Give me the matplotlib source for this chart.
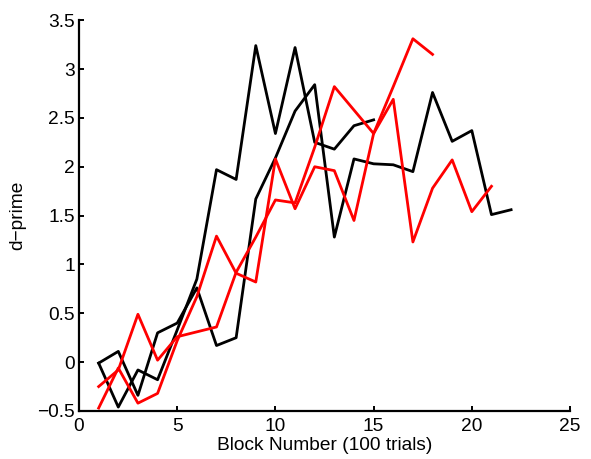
import matplotlib
matplotlib.use("Agg")
import matplotlib.pyplot as plt
from matplotlib.ticker import FuncFormatter

# d-prime per block, two black and two red learning curves
black_a_blocks = [1, 2, 3, 4, 5, 6, 7, 8, 9, 10, 11, 12, 13, 14, 15]
black_a = [-0.01, -0.46, -0.08, -0.18, 0.33, 0.85, 1.97, 1.87, 3.24, 2.34,
           3.22, 2.25, 2.18, 2.42, 2.48]

black_b_blocks = list(range(1, 23))
black_b = [-0.01, 0.11, -0.34, 0.30, 0.40, 0.76, 0.17, 0.25, 1.67, 2.09,
           2.57, 2.84, 1.28, 2.08, 2.03, 2.02, 1.95, 2.76, 2.26, 2.37,
           1.51, 1.56]

red_a_blocks = list(range(1, 19))
red_a = [-0.25, -0.08, 0.49, 0.02, 0.26, 0.31, 0.36, 0.92, 1.28, 1.66,
         1.63, 2.20, 2.82, 2.58, 2.34, 2.82, 3.31, 3.15]

red_b_blocks = list(range(1, 22))
red_b = [-0.47, -0.06, -0.42, -0.32, 0.22, 0.67, 1.29, 0.91, 0.82, 2.08,
         1.57, 2.00, 1.96, 1.45, 2.34, 2.69, 1.23, 1.78, 2.07, 1.54, 1.80]

x_ticks = [0, 5, 10, 15, 20, 25]
y_ticks = [-0.5, 0, 0.5, 1, 1.5, 2, 2.5, 3, 3.5]

plt.rcParams["font.family"] = ["Liberation Sans", "DejaVu Sans"]

fig = plt.figure(figsize=(5.91, 4.59), dpi=100)
ax = fig.add_axes([0.1337, 0.1046, 0.8308, 0.8514])

ax.plot(black_a_blocks, black_a, color="black", lw=2.0)
ax.plot(black_b_blocks, black_b, color="black", lw=2.0)
ax.plot(red_a_blocks, red_a, color="red", lw=2.0)
ax.plot(red_b_blocks, red_b, color="red", lw=2.0)

ax.set_xlim(0, 25)
ax.set_ylim(-0.5, 3.5)
ax.set_xticks(x_ticks)
ax.set_yticks(y_ticks)


def matlab_fmt(v, pos):
    s = f"{v:g}"
    return s.replace("-", "\u2212")


ax.xaxis.set_major_formatter(FuncFormatter(matlab_fmt))
ax.yaxis.set_major_formatter(FuncFormatter(matlab_fmt))

ax.spines["top"].set_visible(False)
ax.spines["right"].set_visible(False)
ax.spines["left"].set_linewidth(1.6)
ax.spines["bottom"].set_linewidth(1.6)
ax.tick_params(direction="in", length=3.5, width=1.4, labelsize=13.8)
ax.tick_params(axis="y", pad=3)
ax.tick_params(axis="x", pad=5)

ax.set_xlabel("Block Number (100 trials)", fontsize=13.8, labelpad=1.5)
ax.set_ylabel("d\u2212prime", fontsize=13.8, labelpad=8)

fig.savefig("out.png", dpi=100)
